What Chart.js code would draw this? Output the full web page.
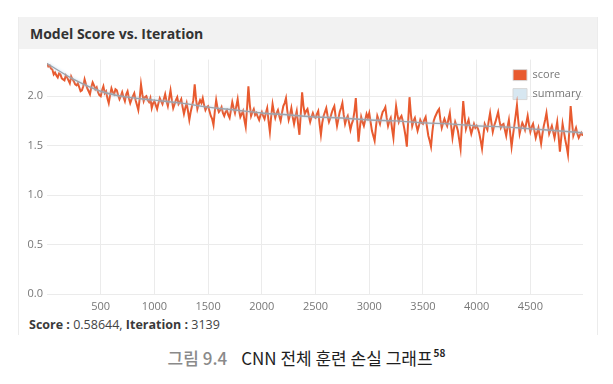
<!DOCTYPE html>
<html>
<head>
<meta charset="utf-8">
<script src="https://cdn.jsdelivr.net/npm/chart.js@4.4.0/dist/chart.umd.min.js"></script>
<style>
    body { margin: 0; width: 613px; height: 384px; background: #fff; position: relative; overflow: hidden; font-family: 'Open Sans', sans-serif; }
    .card { position: absolute; left: 18px; top: 17px; width: 578px; height: 318px; border-left: 1px solid #ececec; border-right: 1px solid #ececec; }
    .card-head { height: 32px; background: #f2f2f2; }
    .card-head h3 { margin: 0; padding-left: 11px; line-height: 33px; font-size: 14px; font-weight: 700; color: #333; }
    #chartWrap { position: absolute; left: 0; top: 32px; width: 577px; height: 267px; }
    .status { position: absolute; left: 10px; top: 299px; font-size: 12.5px; color: #444; }
    .status b { color: #3a3a3a; }
    .caption { position: absolute; left: 0; width: 613px; top: 345px; text-align: center; font-family: 'Noto Sans CJK KR', sans-serif; font-size: 17px; color: #1e1e1e; }
    .caption .num { color: #8a8a8a; font-weight: 500; margin-right: 14px; }
    .caption sup { font-size: 10px; font-weight: 700; vertical-align: 8px; margin-left: 1px; }
</style>
</head>
<body>
<div class="card">
    <div class="card-head"><h3>Model Score vs. Iteration</h3></div>
    <div id="chartWrap"><canvas id="scoreChart"></canvas></div>
    <div class="status"><b>Score :</b> 0.58644, <b>Iteration :</b> 3139</div>
</div>
<div class="caption"><span class="num">그림 9.4</span>CNN 전체 훈련 손실 그래프<sup>58</sup></div>

<script>
// score sampled every 12.5 iterations
const iterStep = 12.5;
const scoreValues = [
    2.33, 2.30, 2.31, 2.28, 2.27, 2.22, 2.24, 2.21, 2.19, 2.23, 2.22, 2.18, 2.17, 2.16, 2.21, 2.19, 2.16, 2.13, 2.20, 2.17,
    2.15, 2.12, 2.11, 2.13, 2.09, 2.05, 2.06, 2.10, 2.17, 2.12, 2.08, 2.05, 2.02, 2.09, 2.14, 2.11, 2.07, 2.09, 2.04, 2.01,
    2.00, 2.06, 2.10, 2.03, 2.05, 1.98, 1.93, 2.01, 2.08, 2.04, 2.02, 2.07, 2.06, 2.01, 1.97, 2.00, 2.04, 1.99, 1.95, 2.02,
    2.05, 1.98, 1.93, 1.97, 2.00, 2.03, 1.96, 1.91, 1.86, 1.97, 2.12, 2.02, 1.95, 1.99, 2.00, 1.96, 1.94, 1.98, 1.88, 1.93,
    1.95, 1.91, 1.87, 1.93, 1.98, 1.95, 1.92, 1.97, 2.02, 1.95, 1.90, 1.98, 2.06, 1.96, 1.88, 1.92, 1.96, 1.99, 1.92, 1.94,
    1.97, 1.89, 1.82, 1.88, 1.93, 1.85, 1.76, 1.84, 1.90, 1.96, 2.12, 1.97, 1.87, 1.92, 1.96, 1.93, 1.98, 1.91, 1.86, 1.89,
    1.90, 1.85, 1.80, 1.77, 1.71, 1.85, 1.96, 1.88, 1.84, 1.86, 1.89, 1.83, 1.80, 1.84, 1.86, 1.81, 1.78, 1.86, 1.94, 1.88,
    1.83, 1.90, 1.97, 1.86, 1.79, 1.82, 1.85, 1.76, 1.69, 1.88, 2.10, 1.92, 1.80, 1.84, 1.87, 1.81, 1.83, 1.79, 1.76, 1.81,
    1.84, 1.80, 1.77, 1.83, 1.88, 1.75, 1.64, 1.80, 1.92, 1.84, 1.78, 1.83, 1.86, 1.80, 1.75, 1.83, 1.90, 1.93, 1.98, 1.85,
    1.76, 1.81, 1.88, 1.79, 1.72, 1.79, 1.85, 1.72, 1.61, 1.82, 2.04, 1.90, 1.82, 1.85, 1.87, 1.80, 1.74, 1.79, 1.83, 1.79,
    1.78, 1.82, 1.85, 1.72, 1.61, 1.73, 1.80, 1.84, 1.88, 1.80, 1.74, 1.78, 1.83, 1.87, 1.90, 1.79, 1.70, 1.77, 1.84, 1.88,
    1.93, 1.81, 1.72, 1.77, 1.80, 1.73, 1.66, 1.72, 1.76, 1.85, 1.98, 1.75, 1.54, 1.68, 1.79, 1.74, 1.70, 1.76, 1.82, 1.78,
    1.83, 1.74, 1.65, 1.60, 1.55, 1.69, 1.80, 1.76, 1.72, 1.79, 1.84, 1.86, 1.89, 1.78, 1.70, 1.75, 1.78, 1.67, 1.58, 1.76,
    1.90, 1.81, 1.74, 1.78, 1.80, 1.75, 1.68, 1.60, 1.49, 1.75, 1.99, 1.82, 1.70, 1.75, 1.78, 1.71, 1.65, 1.70, 1.76, 1.73,
    1.72, 1.76, 1.79, 1.69, 1.60, 1.55, 1.49, 1.64, 1.75, 1.79, 1.82, 1.85, 1.87, 1.76, 1.68, 1.73, 1.77, 1.73, 1.70, 1.77,
    1.83, 1.70, 1.58, 1.67, 1.74, 1.70, 1.65, 1.56, 1.47, 1.72, 1.95, 1.80, 1.67, 1.72, 1.76, 1.68, 1.62, 1.67, 1.72, 1.68,
    1.70, 1.67, 1.62, 1.55, 1.47, 1.60, 1.72, 1.69, 1.66, 1.75, 1.83, 1.73, 1.64, 1.70, 1.74, 1.79, 1.84, 1.75, 1.68, 1.71,
    1.72, 1.66, 1.60, 1.69, 1.76, 1.62, 1.49, 1.60, 1.70, 1.80, 1.91, 1.75, 1.62, 1.68, 1.73, 1.70, 1.66, 1.73, 1.80, 1.71,
    1.64, 1.69, 1.72, 1.65, 1.58, 1.63, 1.68, 1.60, 1.52, 1.62, 1.70, 1.76, 1.83, 1.72, 1.62, 1.66, 1.70, 1.64, 1.58, 1.66,
    1.74, 1.60, 1.44, 1.58, 1.72, 1.64, 1.56, 1.49, 1.41, 1.66, 1.90, 1.74, 1.60, 1.64, 1.68, 1.62, 1.58, 1.61, 1.63, 1.60
];

// smoothed summary line
const summaryIters = [0, 250, 500, 750, 1000, 1250, 1500, 1750, 2000, 2250, 2500, 2750, 3000, 3250, 3500, 3750, 4000, 4250, 4500, 4750, 4985];
const summaryValues = [2.33, 2.17, 2.05, 1.99, 1.96, 1.93, 1.89, 1.86, 1.83, 1.81, 1.79, 1.78, 1.76, 1.75, 1.73, 1.72, 1.70, 1.69, 1.67, 1.65, 1.63];

const xTicks = [500, 1000, 1500, 2000, 2500, 3000, 3500, 4000, 4500];
const yTicks = [0, 0.5, 1.0, 1.5, 2.0];

const scorePoints = scoreValues.map((v, i) => ({ x: i * iterStep, y: v }));
const summaryPoints = summaryValues.map((v, i) => ({ x: summaryIters[i], y: v }));

// soft blue glow under the summary line
const summaryGlow = {
    id: 'summaryGlow',
    beforeDatasetDraw(chart, args) {
        if (args.index !== 1) return;
        chart.ctx.save();
        chart.ctx.shadowColor = 'rgba(170, 212, 238, 0.9)';
        chart.ctx.shadowBlur = 3;
    },
    afterDatasetDraw(chart, args) {
        if (args.index !== 1) return;
        chart.ctx.restore();
    }
};

// move the legend into the top-right corner of the plot
const legendCorner = {
    id: 'legendCorner',
    afterLayout(chart) {
        const lg = chart.legend;
        lg.left = chart.chartArea.right - 78;
        lg.top = chart.chartArea.top + 2;
    }
};

const ctx = document.getElementById('scoreChart').getContext('2d');
new Chart(ctx, {
    type: 'line',
    data: {
        datasets: [
            {
                label: 'score',
                data: scorePoints,
                borderColor: '#e85a2f',
                backgroundColor: '#e85a2f',
                borderWidth: 2,
                pointRadius: 0,
                tension: 0,
                order: 1
            },
            {
                label: 'summary',
                data: summaryPoints,
                borderColor: '#9ea3ab',
                backgroundColor: '#d7e7f1',
                borderWidth: 1.4,
                pointRadius: 0,
                tension: 0.4,
                order: 0
            }
        ]
    },
    options: {
        responsive: true,
        maintainAspectRatio: false,
        animation: false,
        layout: { padding: { top: 8, right: 13, left: 0, bottom: 0 } },
        plugins: {
            tooltip: { enabled: false },
            legend: {
                position: 'chartArea',
                align: 'start',
                labels: {
                    boxWidth: 14,
                    boxHeight: 11,
                    padding: 8,
                    color: '#777',
                    font: { family: 'Open Sans', size: 11 },
                    sort: (a, b) => a.datasetIndex - b.datasetIndex,
                    generateLabels(chart) {
                        const items = Chart.defaults.plugins.legend.labels.generateLabels(chart);
                        items.forEach(it => { it.strokeStyle = '#d8d8d8'; it.lineWidth = 1; });
                        return items;
                    }
                }
            }
        },
        scales: {
            x: {
                type: 'linear',
                min: 0,
                max: 4990,
                afterBuildTicks: (scale) => { scale.ticks = xTicks.map(v => ({ value: v })); },
                afterFit: (scale) => { scale.height = 22; },
                grid: { color: '#ebebeb', drawTicks: false },
                border: { display: false },
                ticks: {
                    color: '#777',
                    padding: 6,
                    maxRotation: 0,
                    font: { family: 'Open Sans', size: 11 },
                    callback: (v) => String(v)
                }
            },
            y: {
                min: 0,
                max: 2.37,
                afterBuildTicks: (scale) => { scale.ticks = yTicks.map(v => ({ value: v })); },
                afterFit: (scale) => { scale.width = 28; },
                grid: { color: '#ebebeb', drawTicks: false },
                border: { display: false },
                ticks: {
                    color: '#777',
                    padding: 4,
                    font: { family: 'Open Sans', size: 11 },
                    callback: (v) => v.toFixed(1)
                }
            }
        }
    },
    plugins: [summaryGlow, legendCorner]
});
</script>
</body>
</html>
